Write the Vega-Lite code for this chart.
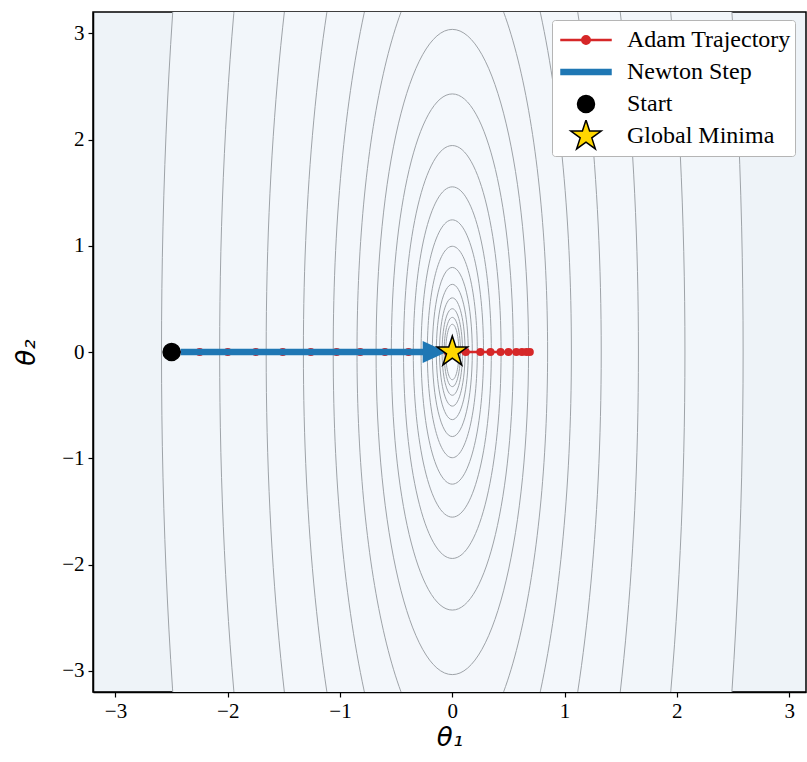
{
  "$schema": "https://vega.github.io/schema/vega-lite/v6.json",
  "width": 713,
  "height": 680,
  "autosize": {"type": "none"},
  "padding": {"left": 93, "top": 12, "right": 1, "bottom": 58},
  "background": "white",
  "config": {
    "view": {"stroke": "black", "strokeWidth": 1.5, "fill": "#eef3f8"},
    "axis": {
      "grid": false,
      "tickColor": "black",
      "tickSize": 5,
      "tickWidth": 1.2,
      "domainColor": "black",
      "domainWidth": 1.5,
      "labelFont": "Liberation Serif",
      "labelFontSize": 21,
      "labelColor": "black",
      "labelFlush": false,
      "labelOverlap": false,
      "titleFont": "DejaVu Sans",
      "titleFontSize": 26,
      "titleFontStyle": "italic",
      "titleFontWeight": "normal",
      "titleColor": "black",
      "zindex": 1
    }
  },
  "datasets": {
    "contours": [
      {"loss": 67.08, "t1": 0, "t2": 0},
      {"loss": 42.93, "t1": 0, "t2": 0},
      {"loss": 27.48, "t1": 0, "t2": 0},
      {"loss": 17.59, "t1": 0, "t2": 0},
      {"loss": 11.25, "t1": 0, "t2": 0},
      {"loss": 7.203, "t1": 0, "t2": 0},
      {"loss": 4.610, "t1": 0, "t2": 0},
      {"loss": 2.950, "t1": 0, "t2": 0},
      {"loss": 1.888, "t1": 0, "t2": 0},
      {"loss": 1.208, "t1": 0, "t2": 0},
      {"loss": 0.7734, "t1": 0, "t2": 0},
      {"loss": 0.4950, "t1": 0, "t2": 0},
      {"loss": 0.3168, "t1": 0, "t2": 0},
      {"loss": 0.2027, "t1": 0, "t2": 0},
      {"loss": 0.1298, "t1": 0, "t2": 0},
      {"loss": 0.0830, "t1": 0, "t2": 0},
      {"loss": 0.0531, "t1": 0, "t2": 0},
      {"loss": 0.0340, "t1": 0, "t2": 0}
    ],
    "adam": [
      {"step": 0, "t1": -2.5, "t2": 0},
      {"step": 1, "t1": -2.25, "t2": 0},
      {"step": 2, "t1": -2.0, "t2": 0},
      {"step": 3, "t1": -1.75, "t2": 0},
      {"step": 4, "t1": -1.51, "t2": 0},
      {"step": 5, "t1": -1.26, "t2": 0},
      {"step": 6, "t1": -1.03, "t2": 0},
      {"step": 7, "t1": -0.82, "t2": 0},
      {"step": 8, "t1": -0.6, "t2": 0},
      {"step": 9, "t1": -0.39, "t2": 0},
      {"step": 10, "t1": -0.21, "t2": 0},
      {"step": 11, "t1": -0.04, "t2": 0},
      {"step": 12, "t1": 0.12, "t2": 0},
      {"step": 13, "t1": 0.25, "t2": 0},
      {"step": 14, "t1": 0.34, "t2": 0},
      {"step": 15, "t1": 0.43, "t2": 0},
      {"step": 16, "t1": 0.5, "t2": 0},
      {"step": 17, "t1": 0.57, "t2": 0},
      {"step": 18, "t1": 0.62, "t2": 0},
      {"step": 19, "t1": 0.66, "t2": 0},
      {"step": 20, "t1": 0.69, "t2": 0}
    ],
    "newton": [
      {"step": 0, "t1": -2.42, "t2": 0},
      {"step": 1, "t1": -0.25, "t2": 0}
    ],
    "newton_tip": [
      {"t1": -0.05, "t2": 0}
    ],
    "markers": [
      {"series": "Start", "t1": -2.5, "t2": 0},
      {"series": "Global Minima", "t1": 0, "t2": 0}
    ]
  },
  "encoding": {
    "x": {
      "field": "t1",
      "type": "quantitative",
      "scale": {"domain": [-3.2, 3.15], "nice": false, "zero": false},
      "axis": {"values": [-3, -2, -1, 0, 1, 2, 3], "labelPadding": 3, "titlePadding": 3},
      "title": "θ₁"
    },
    "y": {
      "field": "t2",
      "type": "quantitative",
      "scale": {"domain": [-3.2, 3.2], "nice": false, "zero": false},
      "axis": {"values": [-3, -2, -1, 0, 1, 2, 3], "labelPadding": 4, "titlePadding": 22},
      "title": "θ₂"
    }
  },
  "layer": [
    {
      "data": {"name": "contours"},
      "mark": {
        "type": "point",
        "shape": "M0,-1C0.1305,-1 0.2363,-0.5523 0.2363,0C0.2363,0.5523 0.1305,1 0,1C-0.1305,1 -0.2363,0.5523 -0.2363,0C-0.2363,-0.5523 -0.1305,-1 0,-1Z",
        "filled": true,
        "stroke": "#9ea3a8",
        "strokeWidth": 1,
        "opacity": 1,
        "clip": true
      },
      "encoding": {
        "size": {"field": "loss", "type": "quantitative", "scale": {"type": "linear", "domain": [0, 100], "range": [0, 9031080]}, "legend": null},
        "color": {"field": "loss", "type": "quantitative", "scale": {"type": "log", "domain": [0.034, 67.08], "range": ["#f8fbff", "#f2f6fa"]}, "legend": null},
        "order": {"field": "loss", "type": "quantitative", "sort": "descending"}
      }
    },
    {
      "data": {"name": "adam"},
      "mark": {
        "type": "line",
        "color": "#d62728",
        "strokeWidth": 2.5,
        "clip": true,
        "point": {"filled": true, "size": 65, "color": "#d62728", "opacity": 1}
      },
      "encoding": {"order": {"field": "step", "type": "quantitative"}}
    },
    {
      "data": {"name": "newton"},
      "mark": {"type": "line", "color": "#1f77b4", "strokeWidth": 6.5, "strokeCap": "butt"},
      "encoding": {"order": {"field": "step", "type": "quantitative"}}
    },
    {
      "data": {"name": "newton_tip"},
      "mark": {
        "type": "point",
        "shape": "M0,0L-2,-0.92L-2,0.92Z",
        "size": 576,
        "filled": true,
        "color": "#1f77b4",
        "opacity": 1,
        "strokeWidth": 0
      }
    },
    {
      "data": {"name": "markers"},
      "mark": {"type": "point", "size": 400, "filled": true, "opacity": 1, "strokeWidth": 1.5},
      "encoding": {
        "shape": {
          "field": "series",
          "type": "nominal",
          "scale": {
            "domain": ["Adam Trajectory", "Newton Step", "Start", "Global Minima"],
            "range": [
              "M-2.5,-0.05L2.5,-0.05L2.5,0.05L-2.5,0.05Z M0,-0.425C0.2347,-0.425 0.425,-0.2347 0.425,0C0.425,0.2347 0.2347,0.425 0,0.425C-0.2347,0.425 -0.425,0.2347 -0.425,0C-0.425,-0.2347 -0.2347,-0.425 0,-0.425Z",
              "M-2.5,-0.26L2.5,-0.26L2.5,0.26L-2.5,0.26Z",
              "M0,-0.85C0.4695,-0.85 0.85,-0.4695 0.85,0C0.85,0.4695 0.4695,0.85 0,0.85C-0.4695,0.85 -0.85,0.4695 -0.85,0C-0.85,-0.4695 -0.4695,-0.85 0,-0.85Z",
              "M0,-1.6L0.3592,-0.4944L1.5218,-0.4944L0.5812,0.1888L0.9405,1.2944L0,0.6111L-0.9405,1.2944L-0.5812,0.1888L-1.5218,-0.4944L-0.3592,-0.4944Z"
            ]
          },
          "legend": {
            "title": null,
            "orient": "none",
            "legendX": 459,
            "legendY": 8,
            "padding": 4,
            "rowPadding": 0,
            "clipHeight": 32,
            "symbolSize": 400,
            "symbolStrokeWidth": 1.5,
            "symbolOffset": 18,
            "labelOffset": 29,
            "labelLimit": 400,
            "labelFont": "Liberation Serif",
            "labelFontSize": 24,
            "labelColor": "black",
            "fillColor": "white",
            "strokeColor": "#b5b5b5",
            "cornerRadius": 3
          }
        },
        "fill": {
          "field": "series",
          "type": "nominal",
          "scale": {
            "domain": ["Adam Trajectory", "Newton Step", "Start", "Global Minima"],
            "range": ["#d62728", "#1f77b4", "black", "#ffd700"]
          }
        },
        "stroke": {
          "field": "series",
          "type": "nominal",
          "scale": {
            "domain": ["Adam Trajectory", "Newton Step", "Start", "Global Minima"],
            "range": ["#d62728", "#1f77b4", "black", "black"]
          }
        }
      }
    }
  ]
}
